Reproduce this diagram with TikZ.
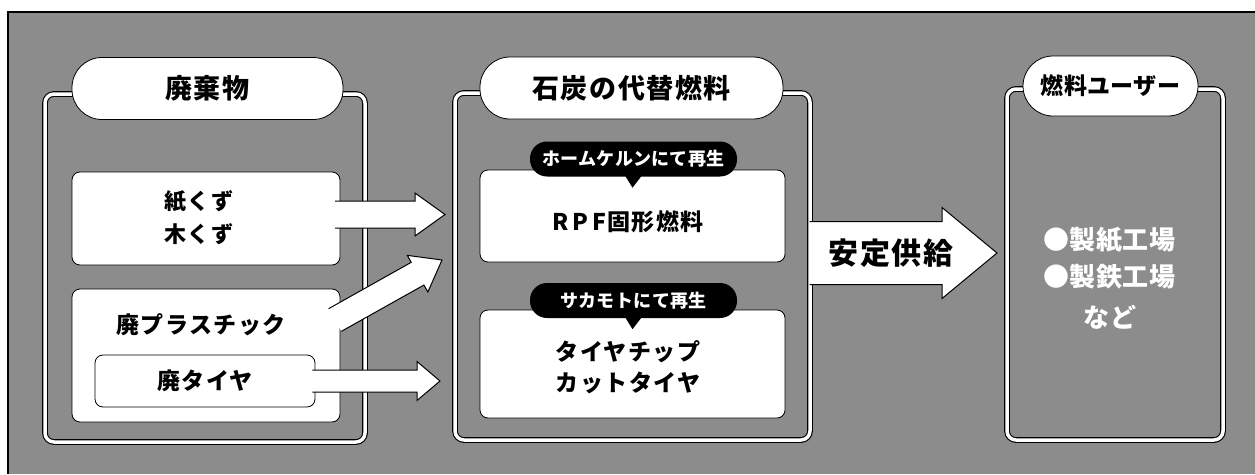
\documentclass[tikz,border=0pt]{standalone}
\usepackage{fontspec}
\newfontfamily\jp[LetterSpace=6]{Noto Sans CJK JP}
\newfontfamily\jpt[LetterSpace=2]{Noto Sans CJK JP}
\usetikzlibrary{calc}
\definecolor{bg}{RGB}{140,140,140}
\newcommand{\blockarrow}[5]{%
  \coordinate (#1hb) at ($(#2)!#5!(#1)$);
  \fill[white] ($(#1)!#3!90:(#2)$) -- ($(#1hb)!#3!90:(#2)$) -- ($(#1hb)!#4!90:(#2)$) -- (#2)
     -- ($(#1hb)!#4!-90:(#2)$) -- ($(#1hb)!#3!-90:(#2)$) -- ($(#1)!#3!-90:(#2)$) -- cycle;
  \draw[arrowline] ($(#1)!#3!90:(#2)$) -- ($(#1hb)!#3!90:(#2)$) -- ($(#1hb)!#4!90:(#2)$) -- (#2)
     -- ($(#1hb)!#4!-90:(#2)$) -- ($(#1hb)!#3!-90:(#2)$) -- ($(#1)!#3!-90:(#2)$);
}
\begin{document}
\begin{tikzpicture}[x=1pt,y=-1pt,
  panel/.style={draw=black, double=white, double distance=3.5pt, line width=1.1pt,
    rounded corners=9pt, inner sep=0pt},
  pill/.style={fill=white, draw=black, line width=0.8pt, rounded corners=30pt, inner sep=0pt,
    font=\jp\bfseries\fontsize{27}{30}\selectfont},
  wbox/.style={fill=white, draw=black, line width=0.8pt, rounded corners=8pt, inner sep=0pt},
  tag/.style={fill=black, rounded corners=17pt, inner sep=0pt, text=white,
    font=\jpt\bfseries\fontsize{18}{20}\selectfont},
  lbl/.style={inner sep=0pt, align=center, font=\jp\bfseries\fontsize{23}{33}\selectfont},
  wlbl/.style={inner sep=0pt, text=white, font=\jpt\bfseries\fontsize{26}{30}\selectfont},
  arrowline/.style={draw=black, line width=1pt, line join=miter}]
\useasboundingbox (0,0) rectangle (1255,474);
% background
\fill[bg] (8,12) rectangle (1255,474);
\draw[black, line width=1.5pt] (1255,12) -- (8,12) -- (8,474);
% panels
\node[panel, minimum width=320pt, minimum height=348pt] (pw) at (205,268) {};
\node[panel, minimum width=355pt, minimum height=347pt] (pf) at (632.5,266.5) {};
\node[panel, minimum width=216pt, minimum height=351pt] (pu) at (1115,264.5) {};
% title pills
\node[pill, minimum width=271pt, minimum height=62pt] (tw) at (207.5,88.5) {廃棄物};
\node[pill, minimum width=303pt, minimum height=62pt] (tf) at (631.5,88) {石炭の代替燃料};
\node[pill, minimum width=175pt, minimum height=60pt, font=\jpt\bfseries\fontsize{23}{26}\selectfont] (tu) at (1110.5,86) {燃料ユーザー};
% left boxes
\node[wbox, minimum width=268pt, minimum height=93pt] (kami) at (206,218.5) {};
\node[wbox, minimum width=268pt, minimum height=133pt] (pla) at (206,355.5) {};
\node[wbox, minimum width=220pt, minimum height=52pt, font=\jp\bfseries\fontsize{23}{26}\selectfont] (tire) at (205,381) {廃タイヤ};
% middle boxes
\node[wbox, minimum width=305pt, minimum height=92pt] (rpf) at (632.5,216) {};
\node[wbox, minimum width=305pt, minimum height=108pt] (chip) at (632.5,364) {};
% tags
\node[tag, minimum width=207pt, minimum height=35pt] (tag1) at (633.5,159) {ホームケルンにて再生};
\fill[black] ($(tag1.south)+(-9,-2)$) -- ($(tag1.south)+(9,-2)$) -- ($(tag1.south)+(-1,11)$) -- cycle;
\node[tag, minimum width=207pt, minimum height=35pt] (tag2) at (633.5,300.5) {サカモトにて再生};
\fill[black] ($(tag2.south)+(-9,-2)$) -- ($(tag2.south)+(9,-2)$) -- ($(tag2.south)+(-1,11)$) -- cycle;
% arrows
\coordinate (a1s) at (335,214.5);
\coordinate (a1t) at (445,214.5);
\coordinate (a2s) at (335,320);
\coordinate (a2t) at (442,260);
\coordinate (a3s) at ($(tire.east)+(-3,0)$);
\coordinate (a3t) at (440,381);
\coordinate (a4s) at ($(pf.east)+(-1,-13.5)$);
\coordinate (a4t) at (997,253);
\blockarrow{a1s}{a1t}{13.5pt}{21.5pt}{30pt}
\blockarrow{a2s}{a2t}{13pt}{21pt}{28pt}
\blockarrow{a3s}{a3t}{11pt}{19.5pt}{23pt}
\blockarrow{a4s}{a4t}{31.5pt}{45.5pt}{55pt}
% labels
\node[lbl, font=\jp\bfseries\fontsize{22}{33}\selectfont] (kamit) at (199,218) {紙くず\\木くず};
\node[lbl] (plat) at (201,325) {廃プラスチック};
\node[lbl, font=\jp\bfseries\fontsize{23}{28}\selectfont] (rpft) at (628,222) {R\,P\,F固形燃料};
\node[lbl, font=\jp\bfseries\fontsize{23}{31}\selectfont] (chipt) at (628,367.5) {タイヤチップ\\カットタイヤ};
\node[lbl, font=\jp\bfseries\fontsize{30}{34}\selectfont] (supply) at (891,253) {安定供給};
\node[wlbl, anchor=west] (u1) at (1043,240) {●製紙工場};
\node[wlbl, anchor=west] (u2) at (1043,277) {●製鉄工場};
\node[wlbl] (u3) at (1110,317) {など};
\end{tikzpicture}
\end{document}
